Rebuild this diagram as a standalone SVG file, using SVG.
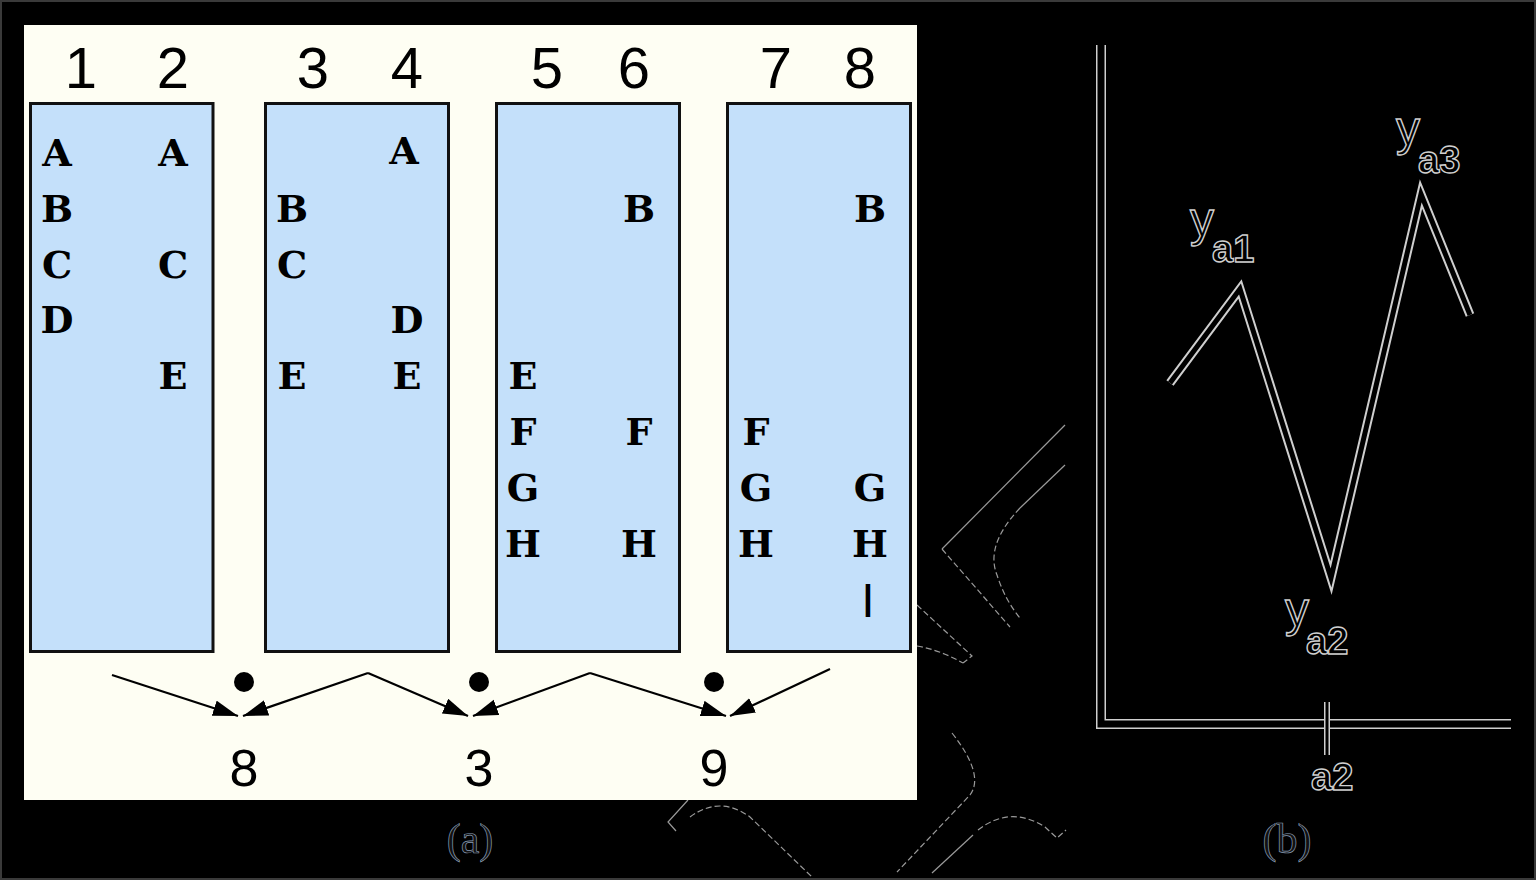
<svg xmlns="http://www.w3.org/2000/svg" width="1536" height="880" viewBox="0 0 1536 880">
<defs>
<marker id="ah" markerWidth="26" markerHeight="18" refX="25" refY="8" orient="auto" markerUnits="userSpaceOnUse">
<path d="M0,0 L25,8 L0,16 Z" fill="#000"/>
</marker>
<style>
.box{fill:#C4E0FA;stroke:#111;stroke-width:3}
.num{font-family:"Liberation Sans",Arial,sans-serif;font-size:58px;fill:#000;text-anchor:middle}
.res{font-family:"Liberation Sans",Arial,sans-serif;font-size:52px;fill:#000;text-anchor:middle}
.let{font-family:"DejaVu Serif","Liberation Serif",serif;font-weight:bold;font-size:38px;fill:#000;text-anchor:middle}
.conn{stroke:#000;stroke-width:2.2;fill:none;marker-end:url(#ah)}
.cap{font-family:"Liberation Serif","Times New Roman",serif;font-size:42px;fill:#111;stroke:#8a9db5;stroke-width:0.7;text-anchor:middle}
.glow{fill:none;stroke:#cfcfcf;stroke-linejoin:miter}
.core{fill:none;stroke:#000;stroke-linejoin:miter}
.lab{font-family:"Liberation Sans",Arial,sans-serif;fill:#000;stroke:#d0d0d0;stroke-width:1.4}
.deco{fill:none;stroke:#9a9a9a;stroke-width:1.2}
.dash{stroke-dasharray:6 3}
</style>
</defs>
<rect x="0" y="0" width="1536" height="880" fill="#000"/>
<rect x="1" y="1" width="1534" height="878" fill="none" stroke="#3a3a3a" stroke-width="2"/>

<g id="decor">
<path class="deco" d="M1065,425 L942,549"/>
<path class="deco dash" d="M942,549 L1010,627"/>
<path class="deco" d="M1065,465 L1020,508"/>
<path class="deco dash" d="M1020,508 Q985,545 997,575 Q1005,600 1020,618"/>
<path class="deco dash" d="M917,605 L972,656 L963,663"/>
<path class="deco dash" d="M917,646 Q940,650 963,663"/>
<path class="deco dash" d="M952,733 Q985,775 970,795 L897,872"/>
<path class="deco" d="M973,835 L932,873"/>
<path class="deco dash" d="M978,830 Q1010,805 1045,827 L1057,838 L1066,830"/>
<path class="deco" d="M688,800 L668,822 L676,831"/>
<path class="deco dash" d="M690,817 Q720,795 750,817 L812,877"/>
</g>

<g id="panel-a">
<rect x="24" y="25" width="893" height="775" fill="#FEFEF3"/>
</g>

<g id="headers">
<text class="num" x="81" y="88">1</text>
<text class="num" x="173" y="88">2</text>
<text class="num" x="313" y="88">3</text>
<text class="num" x="407" y="88">4</text>
<text class="num" x="547" y="88">5</text>
<text class="num" x="634" y="88">6</text>
<text class="num" x="776" y="88">7</text>
<text class="num" x="860" y="88">8</text>
</g>

<g id="box-12">
<rect class="box" x="30.5" y="103.5" width="182.5" height="548"/>
<text class="let" x="57" y="166">A</text>
<text class="let" x="57" y="222">B</text>
<text class="let" x="57" y="278">C</text>
<text class="let" x="57" y="333">D</text>
<text class="let" x="173" y="166">A</text>
<text class="let" x="173" y="278">C</text>
<text class="let" x="173" y="389">E</text>
</g>

<g id="box-34">
<rect class="box" x="265.5" y="103.5" width="183" height="548"/>
<text class="let" x="292" y="222">B</text>
<text class="let" x="292" y="278">C</text>
<text class="let" x="292" y="389">E</text>
<text class="let" x="404" y="164">A</text>
<text class="let" x="407" y="333">D</text>
<text class="let" x="407" y="389">E</text>
</g>

<g id="box-56">
<rect class="box" x="496.5" y="103.5" width="183" height="548"/>
<text class="let" x="523" y="389">E</text>
<text class="let" x="523" y="445">F</text>
<text class="let" x="523" y="501">G</text>
<text class="let" x="523" y="557">H</text>
<text class="let" x="639" y="222">B</text>
<text class="let" x="639" y="445">F</text>
<text class="let" x="639" y="557">H</text>
</g>

<g id="box-78">
<rect class="box" x="727.5" y="103.5" width="183" height="548"/>
<text class="let" x="756" y="445">F</text>
<text class="let" x="756" y="501">G</text>
<text class="let" x="756" y="557">H</text>
<text class="let" x="870" y="222">B</text>
<text class="let" x="870" y="501">G</text>
<text class="let" x="870" y="557">H</text>
<text x="868" y="617" font-family="'Liberation Sans',Arial,sans-serif" font-size="48" text-anchor="middle" fill="#000">I</text>
</g>

<g id="result-8">
<circle cx="244" cy="682" r="10" fill="#000"/>
<text class="res" x="244" y="786">8</text>
</g>
<g id="result-3">
<circle cx="479" cy="682" r="10" fill="#000"/>
<text class="res" x="479" y="786">3</text>
</g>
<g id="result-9">
<circle cx="714" cy="682" r="10" fill="#000"/>
<text class="res" x="714" y="786">9</text>
</g>

<g id="connectors">
<path class="conn" d="M112,675 L238,716"/>
<path class="conn" d="M368,673 L243,716"/>
<path class="conn" d="M368,673 L468,716"/>
<path class="conn" d="M590,673 L473,716"/>
<path class="conn" d="M590,673 L726,716"/>
<path class="conn" d="M830,669 L730,716"/>
</g>

<g id="caption-a">
<text class="cap" x="470" y="853">(a)</text>
</g>

<g id="chart-b">
<path class="glow" stroke-width="10" d="M1101,45 V724 H1511"/>
<path class="core" stroke-width="7" d="M1101,45 V724 H1511"/>
<path class="glow" stroke-width="6" d="M1327,702 V755"/>
<path class="core" stroke-width="3" d="M1327,702 V755"/>
<polyline class="glow" stroke-width="9" points="1170,383 1240,289 1331,578 1421,194 1470,315"/>
<polyline class="core" stroke-width="5" points="1170,383 1240,289 1331,578 1421,194 1470,315"/>
<text class="lab" x="1190" y="236" font-size="48">y</text>
<text class="lab" x="1212" y="262" font-size="38" font-weight="bold">a1</text>
<text class="lab" x="1396" y="145" font-size="48">y</text>
<text class="lab" x="1418" y="173" font-size="38" font-weight="bold">a3</text>
<text class="lab" x="1285" y="626" font-size="48">y</text>
<text class="lab" x="1306" y="654" font-size="38" font-weight="bold">a2</text>
<text class="lab" x="1311" y="790" font-size="38" font-weight="bold">a2</text>
</g>

<g id="caption-b">
<text class="cap" x="1287" y="853">(b)</text>
</g>
</svg>
